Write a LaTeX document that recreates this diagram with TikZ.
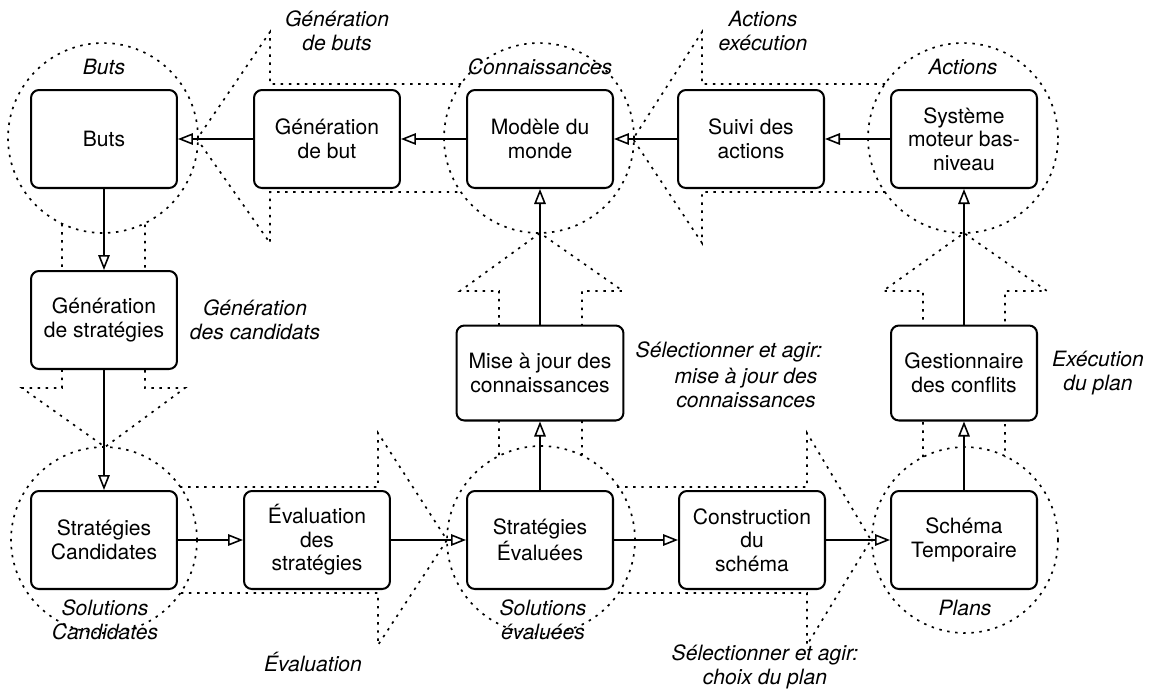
\documentclass[tikz,border=0pt]{standalone}
\usepackage{fontspec}
\setmainfont{TeX Gyre Heros}
\usetikzlibrary{arrows.meta}
\begin{document}
\begin{tikzpicture}[x=0.02cm,y=-0.02cm,
  box/.style={draw, line width=1.15pt, rounded corners=4.5pt, fill=white, align=center,
    minimum width=2.92cm, minimum height=1.96cm, inner sep=2pt,
    font=\fontsize{12}{13.4}\selectfont},
  lbl/.style={align=center, inner sep=0pt, font=\fontsize{12}{13.6}\selectfont\itshape},
  dots/.style={line width=0.95pt, dash pattern=on 1.4pt off 3.2pt},
  arr/.style={line width=0.9pt, -{Triangle[open, length=0.3cm, width=0.23cm, line width=0.9pt]}}]
\useasboundingbox (0,0) rectangle (1150,698);

% dotted circles
\draw[dots] (103,138) circle[radius=1.9cm];
\draw[dots] (539,138) circle[radius=1.9cm];
\draw[dots] (963,138) circle[radius=1.9cm];
\draw[dots] (104,540) circle[radius=1.86cm];
\draw[dots] (541,540) circle[radius=1.88cm];
\draw[dots] (965,540) circle[radius=1.86cm];

% dotted block arrows
\draw[dots] (461,84) -- (270,84) -- (270,32) -- (197,139) -- (270,243) -- (270,192) -- (461,192);
\draw[dots] (885,84) -- (702,84) -- (702,32) -- (633,139) -- (702,243) -- (702,192) -- (885,192);
\draw[dots] (62,224) -- (62,388) -- (22,388) -- (105,447) -- (185,388) -- (145,388) -- (145,224);
\draw[dots] (180,487) -- (378,487) -- (378,433) -- (447,540) -- (378,645) -- (378,593) -- (180,593);
\draw[dots] (617,487) -- (807,487) -- (807,433) -- (871,540) -- (807,645) -- (807,593) -- (617,593);
\draw[dots] (499,455) -- (499,291) -- (460,291) -- (540,233) -- (623,291) -- (582,291) -- (582,455);
\draw[dots] (923,457) -- (923,291) -- (883,291) -- (964,233) -- (1047,291) -- (1005,291) -- (1005,457);

% boxes
\node[box] (buts)   at (104,139) {Buts};
\node[box] (genbut) at (327,139) {Génération\\de but};
\node[box] (modele) at (540,139) {Modèle du\\monde};
\node[box] (suivi)  at (751,139) {Suivi des\\actions};
\node[box] (sys)    at (964,139) {Système\\moteur bas-\\niveau};
\node[box] (genstr) at (104,320) {Génération\\de stratégies};
\node[box, minimum width=3.34cm, minimum height=1.9cm] (maj) at (540,373) {Mise à jour des\\connaissances};
\node[box, minimum height=1.9cm] (gest) at (964,373) {Gestionnaire\\des conflits};
\node[box] (scand)  at (104,540) {Stratégies\\Candidates};
\node[box] (evals)  at (317,540) {Évaluation\\des\\stratégies};
\node[box] (seval)  at (540,540) {Stratégies\\Évaluées};
\node[box] (constr) at (752,540) {Construction\\du\\schéma};
\node[box] (schema) at (964,540) {Schéma\\Temporaire};

% connectors
\draw[arr] (genbut) -- (buts);
\draw[arr] (modele) -- (genbut);
\draw[arr] (suivi) -- (modele);
\draw[arr] (sys) -- (suivi);
\draw[arr] (buts) -- (genstr);
\draw[arr] (genstr) -- (scand);
\draw[arr] (scand) -- (evals);
\draw[arr] (evals) -- (seval);
\draw[arr] (seval) -- (maj);
\draw[arr] (maj) -- (modele);
\draw[arr] (seval) -- (constr);
\draw[arr] (constr) -- (schema);
\draw[arr] (schema) -- (gest);
\draw[arr] (gest) -- (sys);

% labels
\node[lbl] (l1)  at (104,67)  {Buts};
\node[lbl] (l2)  at (337,31)  {Génération\\de buts};
\node[lbl] (l3)  at (540,67)  {Connaissances};
\node[lbl] (l4)  at (763,31)  {Actions\\exécution};
\node[lbl] (l5)  at (963,67)  {Actions};
\node[lbl] (l6)  at (255,320) {Génération\\des candidats};
\node[lbl] (l7a) at (729,352) {Sélectionner et agir:};
\node[lbl] (l7b) at (746,388) {mise à jour des\\connaissances};
\node[lbl] (l8)  at (1098,373) {Exécution\\du plan};
\node[lbl] (l9)  at (105,620) {Solutions\\Candidates};
\node[lbl] (l10) at (313,662) {Évaluation};
\node[lbl] (l11) at (543,620) {Solutions\\évaluées};
\node[lbl] (l12) at (765,667) {Sélectionner et agir:\\choix du plan};
\node[lbl] (l13) at (965,608) {Plans};
\end{tikzpicture}
\end{document}
